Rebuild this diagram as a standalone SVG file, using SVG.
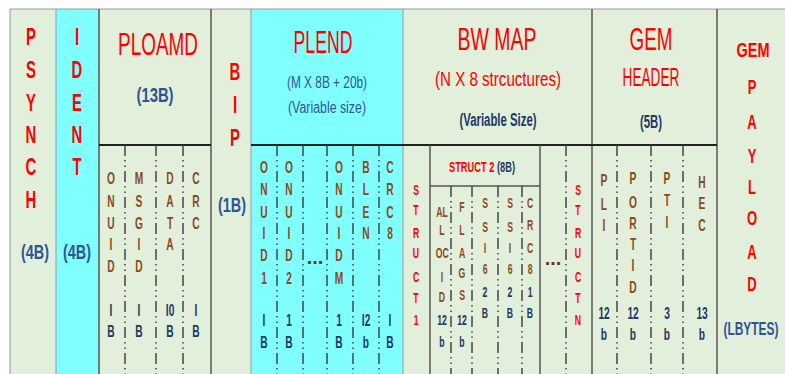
<svg xmlns="http://www.w3.org/2000/svg" width="785" height="374" viewBox="0 0 785 374">
<style>
text{font-family:"Liberation Sans",Arial,sans-serif;text-anchor:middle}
.n{transform-box:fill-box;transform-origin:center;transform:scaleX(0.62)}
.rv{font-size:24px;font-weight:bold;fill:#ff0000}
.rt{font-size:30.7px;fill:#ff0000}
.bl{font-size:20px;font-weight:bold;fill:#2f5597}
.blr{font-size:16px;fill:#2f5597}
.br{font-size:16.5px;font-weight:bold;fill:#8b4a1c}
.bs{font-size:14px;font-weight:bold;fill:#8b4a1c}
.nv{font-size:16.5px;font-weight:bold;fill:#203864}
.nvs{font-size:14px;font-weight:bold;fill:#203864}
.rs{font-size:14px;font-weight:bold;fill:#ff0000}
.dots{font-size:20px;font-weight:bold;fill:#6b3a14}
.g{fill:#e2efda}
.c{fill:#80ffff}
.col{stroke:#555;stroke-width:1.5}
.coll{stroke:#999;stroke-width:1}
.hl{stroke:#222;stroke-width:2}
.dd{stroke:#444;stroke-width:1.5;stroke-dasharray:11 4 1.5 4 1.5 4}
</style>
<rect x="0" y="0" width="785" height="374" fill="#ffffff"/>
<g id="backgrounds">
<rect class="g" x="10" y="9" width="46" height="365"/>
<rect class="c" x="56" y="9" width="43" height="365"/>
<rect class="g" x="99" y="9" width="112" height="365"/>
<rect class="g" x="211" y="9" width="40" height="365"/>
<rect class="c" x="251" y="9" width="152" height="365"/>
<rect class="g" x="403" y="9" width="189" height="365"/>
<rect class="g" x="592" y="9" width="125" height="365"/>
<rect class="g" x="717" y="9" width="68" height="365"/>
<line class="coll" x1="10" y1="9" x2="785" y2="9"/>
</g>
<g id="dividers">
<line class="coll" x1="10" y1="9" x2="10" y2="374"/>
<line class="coll" x1="56" y1="9" x2="56" y2="374"/>
<line class="col" x1="99" y1="9" x2="99" y2="374"/>
<line class="col" x1="211" y1="9" x2="211" y2="374"/>
<line class="coll" x1="251" y1="9" x2="251" y2="374"/>
<line class="coll" x1="403" y1="9" x2="403" y2="374"/>
<line class="col" x1="592" y1="9" x2="592" y2="374"/>
<line class="col" x1="717" y1="9" x2="717" y2="374"/>
<line class="hl" x1="99" y1="145" x2="211" y2="145"/>
<line class="hl" x1="251" y1="145" x2="717" y2="145"/>
<line class="dd" x1="125" y1="145" x2="125" y2="374"/>
<line class="dd" x1="156" y1="145" x2="156" y2="374"/>
<line class="dd" x1="183" y1="145" x2="183" y2="374"/>
<line class="dd" x1="277" y1="145" x2="277" y2="374"/>
<line class="dd" x1="303" y1="145" x2="303" y2="374"/>
<line class="dd" x1="327" y1="145" x2="327" y2="374"/>
<line class="dd" x1="353" y1="145" x2="353" y2="374"/>
<line class="dd" x1="379" y1="145" x2="379" y2="374"/>
<line class="col" x1="430" y1="145" x2="430" y2="374"/>
<line class="col" x1="540" y1="145" x2="540" y2="374"/>
<line class="col" x1="430" y1="186" x2="540" y2="186"/>
<line class="dd" x1="451" y1="186" x2="451" y2="374"/>
<line class="dd" x1="472" y1="186" x2="472" y2="374"/>
<line class="dd" x1="498" y1="186" x2="498" y2="374"/>
<line class="dd" x1="522" y1="186" x2="522" y2="374"/>
<line class="dd" x1="566" y1="145" x2="566" y2="374"/>
<line class="dd" x1="617" y1="145" x2="617" y2="374"/>
<line class="dd" x1="651" y1="145" x2="651" y2="374"/>
<line class="dd" x1="683" y1="145" x2="683" y2="374"/>
</g>
<g id="psynch">
<text class="rv n" x="31" y="45.5">P</text>
<text class="rv n" x="31" y="78.5">S</text>
<text class="rv n" x="31" y="111.5">Y</text>
<text class="rv n" x="31" y="143.5">N</text>
<text class="rv n" x="31" y="175.5">C</text>
<text class="rv n" x="31" y="208.5">H</text>
<text class="bl" x="35" y="259" textLength="28" lengthAdjust="spacingAndGlyphs">(4B)</text>
</g>
<g id="ident">
<text class="rv n" x="77" y="45.5">I</text>
<text class="rv n" x="77" y="78.5">D</text>
<text class="rv n" x="77" y="111.5">E</text>
<text class="rv n" x="77" y="143.5">N</text>
<text class="rv n" x="77" y="175.5">T</text>
<text class="bl" x="77" y="259" textLength="28" lengthAdjust="spacingAndGlyphs">(4B)</text>
</g>
<g id="ploamd">
<text class="rt" x="158" y="55" textLength="80" lengthAdjust="spacingAndGlyphs">PLOAMD</text>
<text class="bl" x="155" y="102" textLength="37" lengthAdjust="spacingAndGlyphs">(13B)</text>
<g id="ploamd-onuid">
<text class="br n" x="111" y="184">O</text><text class="br n" x="111" y="207">N</text><text class="br n" x="111" y="229">U</text><text class="br n" x="111" y="250">I</text><text class="br n" x="111" y="272">D</text>
<text class="nv n" x="111" y="316">I</text><text class="nv n" x="111" y="337">B</text>
</g>
<g id="ploamd-msgid">
<text class="br n" x="139" y="184">M</text><text class="br n" x="139" y="207">S</text><text class="br n" x="139" y="229">G</text><text class="br n" x="139" y="250">I</text><text class="br n" x="139" y="272">D</text>
<text class="nv n" x="139" y="316">I</text><text class="nv n" x="139" y="337">B</text>
</g>
<g id="ploamd-data">
<text class="br n" x="170" y="184">D</text><text class="br n" x="170" y="207">A</text><text class="br n" x="170" y="229">T</text><text class="br n" x="170" y="250">A</text>
<text class="nv n" x="170" y="316">I0</text><text class="nv n" x="170" y="337">B</text>
</g>
<g id="ploamd-crc">
<text class="br n" x="196" y="184">C</text><text class="br n" x="196" y="207">R</text><text class="br n" x="196" y="229">C</text>
<text class="nv n" x="196" y="316">I</text><text class="nv n" x="196" y="337">B</text>
</g>
</g>
<g id="bip">
<text class="rv n" x="235" y="80">B</text>
<text class="rv n" x="235" y="113">I</text>
<text class="rv n" x="235" y="146.5">P</text>
<text class="bl" x="232" y="212" textLength="28" lengthAdjust="spacingAndGlyphs">(1B)</text>
</g>
<g id="plend">
<text class="rt" x="323" y="53" textLength="59" lengthAdjust="spacingAndGlyphs">PLEND</text>
<text class="blr" x="327" y="88" textLength="80" lengthAdjust="spacingAndGlyphs">(M X 8B + 20b)</text>
<text class="blr" x="327" y="112.5" textLength="78" lengthAdjust="spacingAndGlyphs">(Variable size)</text>
<g id="plend-onuid1">
<text class="br n" x="264" y="173">O</text><text class="br n" x="264" y="195">N</text><text class="br n" x="264" y="218">U</text><text class="br n" x="264" y="239">I</text><text class="br n" x="264" y="261">D</text><text class="br n" x="264" y="284">1</text>
<text class="nv n" x="264" y="326">I</text><text class="nv n" x="264" y="348">B</text>
</g>
<g id="plend-onuid2">
<text class="br n" x="289" y="173">O</text><text class="br n" x="289" y="195">N</text><text class="br n" x="289" y="218">U</text><text class="br n" x="289" y="239">I</text><text class="br n" x="289" y="261">D</text><text class="br n" x="289" y="284">2</text>
<text class="nv n" x="289" y="326">1</text><text class="nv n" x="289" y="348">B</text>
</g>
<text class="dots" x="315" y="264">...</text>
<g id="plend-onuidm">
<text class="br n" x="339" y="173">O</text><text class="br n" x="339" y="195">N</text><text class="br n" x="339" y="218">U</text><text class="br n" x="339" y="239">I</text><text class="br n" x="339" y="261">D</text><text class="br n" x="339" y="284">M</text>
<text class="nv n" x="339" y="326">1</text><text class="nv n" x="339" y="348">B</text>
</g>
<g id="plend-blen">
<text class="br n" x="366" y="173">B</text><text class="br n" x="366" y="195">L</text><text class="br n" x="366" y="218">E</text><text class="br n" x="366" y="239">N</text>
<text class="nv n" x="366" y="326">I2</text><text class="nv n" x="366" y="348">b</text>
</g>
<g id="plend-crc8">
<text class="br n" x="390" y="173">C</text><text class="br n" x="390" y="195">R</text><text class="br n" x="390" y="218">C</text><text class="br n" x="390" y="239">8</text>
<text class="nv n" x="390" y="326">I</text><text class="nv n" x="390" y="348">B</text>
</g>
</g>
<g id="bwmap">
<text class="rt" x="497" y="50" textLength="79" lengthAdjust="spacingAndGlyphs">BW MAP</text>
<text class="rt" x="498" y="86" style="font-size:19.5px" textLength="126" lengthAdjust="spacingAndGlyphs">(N X 8 strcuctures)</text>
<text class="nv" x="498" y="126" style="font-size:18px" textLength="77" lengthAdjust="spacingAndGlyphs">(Variable Size)</text>
<g id="struct1">
<text class="rs n" x="416" y="195">S</text><text class="rs n" x="416" y="215">T</text><text class="rs n" x="416" y="238">R</text><text class="rs n" x="416" y="258">U</text><text class="rs n" x="416" y="282">C</text><text class="rs n" x="416" y="303">T</text><text class="rs n" x="416" y="325">1</text>
</g>
<g id="struct2">
<text x="482" y="172" style="font-size:15.5px;font-weight:bold" textLength="66" lengthAdjust="spacingAndGlyphs"><tspan fill="#ff0000">STRUCT 2 </tspan><tspan fill="#203864">(8B)</tspan></text>
<g id="allocid">
<text class="bs n" x="442" y="217">AL</text><text class="bs n" x="442" y="235">L</text><text class="bs n" x="442" y="258">OC</text><text class="bs n" x="442" y="282">I</text><text class="bs n" x="442" y="302">D</text>
<text class="nvs n" x="442" y="325">12</text><text class="nvs n" x="442" y="347">b</text>
</g>
<g id="flags">
<text class="bs n" x="462" y="212">F</text><text class="bs n" x="462" y="235">L</text><text class="bs n" x="462" y="258">A</text><text class="bs n" x="462" y="278">G</text><text class="bs n" x="462" y="300">S</text>
<text class="nvs n" x="462" y="325">12</text><text class="nvs n" x="462" y="347">b</text>
</g>
<g id="ssi6a">
<text class="bs n" x="485" y="208">S</text><text class="bs n" x="485" y="232">S</text><text class="bs n" x="485" y="253">I</text><text class="bs n" x="485" y="274">6</text>
<text class="nvs n" x="485" y="297">2</text><text class="nvs n" x="485" y="318">B</text>
</g>
<g id="ssi6b">
<text class="bs n" x="510" y="208">S</text><text class="bs n" x="510" y="232">S</text><text class="bs n" x="510" y="253">I</text><text class="bs n" x="510" y="274">6</text>
<text class="nvs n" x="510" y="297">2</text><text class="nvs n" x="510" y="318">B</text>
</g>
<g id="crc8">
<text class="bs n" x="530" y="208">C</text><text class="bs n" x="530" y="230">R</text><text class="bs n" x="530" y="253">C</text><text class="bs n" x="530" y="274">8</text>
<text class="nvs n" x="530" y="297">1</text><text class="nvs n" x="530" y="318">B</text>
</g>
</g>
<text class="dots" x="553" y="265">...</text>
<g id="structn">
<text class="rs n" x="578" y="195">S</text><text class="rs n" x="578" y="215">T</text><text class="rs n" x="578" y="238">R</text><text class="rs n" x="578" y="258">U</text><text class="rs n" x="578" y="282">C</text><text class="rs n" x="578" y="303">T</text><text class="rs n" x="578" y="325">N</text>
</g>
</g>
<g id="gemheader">
<text class="rt" x="651" y="50" textLength="43" lengthAdjust="spacingAndGlyphs">GEM</text>
<text class="rt" x="651" y="86" style="font-size:25px" textLength="57" lengthAdjust="spacingAndGlyphs">HEADER</text>
<text class="nv" x="651" y="128" style="font-size:18px" textLength="22" lengthAdjust="spacingAndGlyphs">(5B)</text>
<g id="pli">
<text class="br n" x="604" y="186">P</text><text class="br n" x="604" y="210">L</text><text class="br n" x="604" y="231">I</text>
<text class="nv n" x="604" y="319">12</text><text class="nv n" x="604" y="340">b</text>
</g>
<g id="portid">
<text class="br n" x="633" y="184">P</text><text class="br n" x="633" y="208">O</text><text class="br n" x="633" y="229">R</text><text class="br n" x="633" y="250">T</text><text class="br n" x="633" y="271">I</text><text class="br n" x="633" y="293">D</text>
<text class="nv n" x="633" y="319">12</text><text class="nv n" x="633" y="340">b</text>
</g>
<g id="pti">
<text class="br n" x="667" y="184">P</text><text class="br n" x="667" y="206">T</text><text class="br n" x="667" y="228">I</text>
<text class="nv n" x="667" y="319">3</text><text class="nv n" x="667" y="340">b</text>
</g>
<g id="hec">
<text class="br n" x="702" y="188">H</text><text class="br n" x="702" y="209">E</text><text class="br n" x="702" y="231">C</text>
<text class="nv n" x="702" y="319">13</text><text class="nv n" x="702" y="340">b</text>
</g>
</g>
<g id="gempayload">
<text class="rv" x="753" y="57" style="font-size:21px" textLength="33" lengthAdjust="spacingAndGlyphs">GEM</text>
<text class="rv n" x="752" y="94.5" style="font-size:21px">P</text>
<text class="rv n" x="752" y="129.5" style="font-size:21px">A</text>
<text class="rv n" x="752" y="163.5" style="font-size:21px">Y</text>
<text class="rv n" x="752" y="194.5" style="font-size:21px">L</text>
<text class="rv n" x="752" y="225.5" style="font-size:21px">O</text>
<text class="rv n" x="752" y="259.5" style="font-size:21px">A</text>
<text class="rv n" x="752" y="291.5" style="font-size:21px">D</text>
<text class="bl" x="751" y="335" style="font-size:19px" textLength="55" lengthAdjust="spacingAndGlyphs">(LBYTES)</text>
</g>
</svg>
